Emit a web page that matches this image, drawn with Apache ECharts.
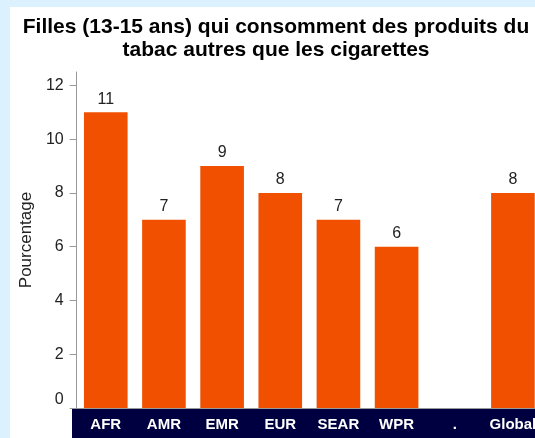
<!DOCTYPE html>
<html>
<head>
<meta charset="utf-8">
<script src="https://cdn.jsdelivr.net/npm/echarts@6/dist/echarts.min.js"></script>
<style>
  html, body { margin: 0; padding: 0; overflow: hidden; background: #dbf1fd; }
  #panel { position: absolute; left: 10px; top: 7px; width: 540px; height: 440px; background: #ffffff; }
  #chart { width: 532px; height: 431px; }
</style>
</head>
<body>
<div id="panel"><div id="chart"></div></div>
<script>
// régions OMS + global
var categories = ['AFR', 'AMR', 'EMR', 'EUR', 'SEAR', 'WPR', '.', 'Global'];
var values = [11, 7, 9, 8, 7, 6, null, 8];
var yTicks = [0, 2, 4, 6, 8, 10, 12];

var myChart = echarts.init(document.getElementById('chart'));

var option = {
  animation: false,
  title: {
    text: 'Filles (13-15 ans) qui consomment des produits du\ntabac autres que les cigarettes',
    left: 'center',
    top: 4,
    textStyle: {
      fontFamily: 'Liberation Sans',
      fontSize: 21,
      fontWeight: 'bold',
      color: '#000',
      lineHeight: 23
    }
  },
  graphic: [
    {
      // bandeau bleu nuit sous l'axe
      type: 'rect',
      z: 0,
      shape: { x: 62, y: 402, width: 480, height: 40 },
      style: { fill: '#000040' }
    }
  ],
  grid: {
    left: 63,
    top: 65,
    width: 472,
    height: 336
  },
  xAxis: {
    type: 'category',
    data: categories,
    z: 5,
    axisLine: { lineStyle: { color: '#999' } },
    axisTick: { length: 6, lineStyle: { color: '#bbb' } },
    axisLabel: {
      interval: 0,
      margin: 9,
      color: '#fff',
      fontFamily: 'Liberation Sans',
      fontWeight: 'bold',
      fontSize: 15
    }
  },
  yAxis: {
    type: 'value',
    min: 0,
    max: 12.5,
    interval: 2,
    name: 'Pourcentage',
    nameLocation: 'middle',
    nameGap: 40,
    nameTextStyle: { fontFamily: 'Liberation Sans', fontSize: 17, color: '#222' },
    splitLine: { show: false },
    axisLine: { show: true, lineStyle: { color: '#999' } },
    axisTick: { show: true, length: 7, customValues: yTicks, lineStyle: { color: '#999' } },
    axisLabel: {
      customValues: yTicks,
      margin: 13,
      color: '#222',
      fontFamily: 'Liberation Sans',
      fontSize: 16,
      verticalAlignMinLabel: 'bottom'
    }
  },
  series: [
    {
      type: 'bar',
      data: values,
      barWidth: '75%',
      itemStyle: { color: '#f05000' },
      label: {
        show: true,
        position: 'top',
        distance: 5,
        color: '#222',
        fontFamily: 'Liberation Sans',
        fontSize: 16
      }
    }
  ]
};

myChart.setOption(option);
</script>
</body>
</html>
